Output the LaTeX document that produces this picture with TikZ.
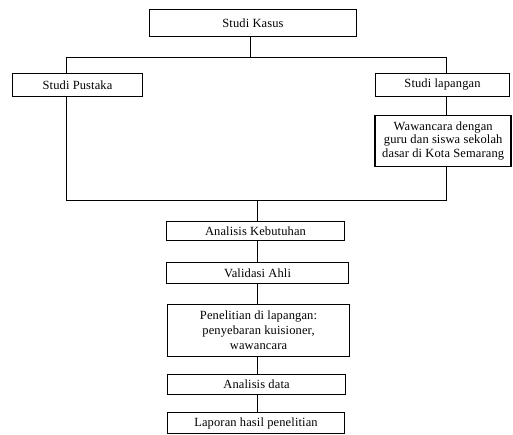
\documentclass[tikz,border=0pt]{standalone}
\usepackage{fontspec}
\setmainfont[LetterSpace=1]{Liberation Serif}
\begin{document}
\begin{tikzpicture}[x=1pt,y=-1pt,
  box/.style={draw,line width=1.6pt,inner sep=0pt,align=center,
    font=\fontsize{12.5}{13.5}\selectfont},
  link/.style={line width=0.8pt}]
\useasboundingbox (0,0) rectangle (513,435);
\node[box,minimum width=207pt,minimum height=27pt] (kasus) at (253,23) {Studi Kasus};
\node[box,minimum width=130pt,minimum height=23pt] (pustaka) at (77.5,85) {Studi Pustaka};
\node[box,minimum width=134pt,minimum height=23pt] (lapangan) at (442.5,85) {Studi lapangan};
\node[box,minimum width=136pt,minimum height=51pt,font=\fontsize{12.5}{13.3}\selectfont] (wawancara) at (443.2,141) {Wawancara dengan\\guru dan siswa sekolah\\dasar di Kota Semarang};
\node[box,minimum width=178pt,minimum height=19pt] (kebutuhan) at (255.5,231) {Analisis Kebutuhan};
\node[box,minimum width=182pt,minimum height=21pt] (validasi) at (257.5,273) {Validasi Ahli};
\node[box,minimum width=182pt,minimum height=52pt,font=\fontsize{12.5}{15}\selectfont] (penelitian) at (258.5,330.5) {Penelitian di lapangan:\\penyebaran kuisioner,\\wawancara};
\node[box,minimum width=178pt,minimum height=20pt] (adata) at (256.5,384.5) {Analisis data};
\node[box,minimum width=177pt,minimum height=21pt] (laporan) at (256,423) {Laporan hasil penelitian};
\coordinate (topL) at (66,57);
\coordinate (topR) at (446,57);
\coordinate (topM) at (250,57);
\coordinate (botL) at (66,200);
\coordinate (botR) at (446,200);
\coordinate (botM) at (257,200);
\draw[link] (kasus.south -| topM) -- (topM);
\draw[link] (topL) -- (topR);
\draw[link] (topL) -- (pustaka.north -| topL);
\draw[link] (topR) -- (lapangan.north -| topR);
\draw[link] (lapangan.south -| topR) -- (wawancara.north -| topR);
\draw[link] (pustaka.south -| botL) -- (botL) -- (botR) -- (wawancara.south -| botR);
\draw[link] (botM) -- (kebutuhan.north -| botM);
\draw[link] (kebutuhan.south -| botM) -- (validasi.north -| botM);
\draw[link] (validasi.south -| botM) -- (penelitian.north -| botM);
\draw[link] (penelitian.south -| botM) -- (adata.north -| botM);
\draw[link] (adata.south -| botM) -- (laporan.north -| botM);
\end{tikzpicture}
\end{document}
